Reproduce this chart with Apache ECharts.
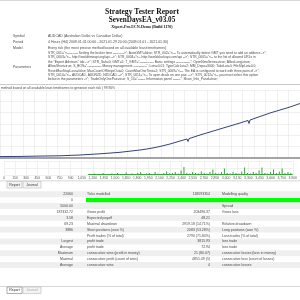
<!DOCTYPE html>
<html>
<head>
<meta charset="utf-8">
<script src="https://cdn.jsdelivr.net/npm/echarts@6/dist/echarts.min.js"></script>
<style>
  html, body { margin: 0; padding: 0; background: #fff; }
  #report { width: 300px; height: 300px; }
</style>
</head>
<body>
<div id="report"></div>
<script>
// balance curve: trade number -> balance
const balanceTrades = [0, 260, 520, 780, 1040, 1300, 1560, 1820, 1950, 2080, 2210, 2340, 2431, 2444, 2457,
  2600, 2730, 2860, 2990, 3120, 3224, 3237, 3250, 3380, 3510, 3640, 3770, 3900];
const balanceValues = [5000, 5500, 6800, 7800, 10600, 14800, 20100, 28200, 33500, 40600, 49400, 60000, 67000, 58200, 68400,
  81200, 91800, 102400, 113000, 123500, 132400, 121800, 134100, 146500, 158800, 169400, 180000, 192300];

// lots pane
const lotTrades = [1144, 1183, 1222, 1261, 1300, 1339, 1378, 1417, 1456, 1495, 1534, 1573, 1612, 1651, 1690, 1729, 1768, 1807,
  1846, 1885, 1924, 1963, 2002, 2041, 2080, 2119, 2158, 2197, 2236, 2275, 2314, 2353, 2392, 2431, 2470, 2509, 2548, 2587,
  2626, 2665, 2704, 2743, 2782, 2821, 2860, 2899, 2938, 2977, 3016, 3055, 3094, 3133, 3172, 3211, 3250, 3289, 3328, 3367,
  3406, 3445, 3484, 3523, 3562, 3601, 3640, 3679, 3718, 3757, 3796, 3835, 3874];
const lotSizes = [0.1, 0.1, 0.15, 0.1, 0.1, 0.2, 0.1, 0.1, 0.15, 0.1, 0.2, 0.1, 0.1, 0.25, 0.1, 0.15, 0.1, 0.2,
  0.3, 0.1, 0.15, 0.2, 0.1, 0.3, 0.15, 0.1, 0.2, 0.35, 0.15, 0.2, 0.3, 0.15, 0.45, 0.8, 0.2, 0.15, 0.3, 0.2,
  0.15, 0.35, 0.2, 0.15, 0.3, 0.55, 0.2, 0.15, 0.3, 0.65, 0.2, 0.15, 0.3, 0.2, 0.15, 0.35, 0.75, 0.2, 0.15, 0.3,
  0.2, 0.45, 0.75, 0.2, 0.15, 0.3, 0.55, 0.2, 0.35, 0.65, 0.2, 0.3, 0.2];
const lotBase = 0.06;

const titleLines = ["Strategy Tester Report", "SevenDaysEA_v03.05", "Xtpert-Pro.ECN-Demo (Build 1170)"];
const infoRows = [
  ["Symbol", "AUDCAD (Australian Dollar vs Canadian Dollar)"],
  ["Period", "4 Hours (H4) 2009.01.01 00:00 - 2021.01.29 20:00 (2009.01.01 - 2021.01.30)"],
  ["Model", "Every tick (the most precise method based on all available least timeframes)"]
];
const paramLines = [
  'STR_001="<---------- Setting the broker time ---------->"; AutoGMT=false; STR_002="<--- To automatically detect GMT you need to add an address ->";',
  'STR_0003="<-- http://worldtimeapi.org/api -->"; STR_0004="<-- http://worldclockapi.com/api -->"; STR_0005="<-- to the list of allowed URLs in',
  'the "Expert Advisors" tab -->"; STR_Sah=0; GMT=2; T_GMT="------------- Basic settings -------------"; OpenNewSeries=true; AllowLong=true;',
  'AllowShort=true; S_BOS="------------- Money management ------------"; Lots=0.01; TypeCalcLot=2; MM_Depo=3000; TakeLot=0; FileSlipLot=0.0;',
  'ResetMaxStopLoss=false; MaxCountOfStepsOut=0; CountMaxOneTime=2; STR_0009="<--- The EA is configured to work with three pairs of ->";',
  'STR_0010="<-- AUDCAD, AUDNZD, NZDCAD -->"; STR_0011="<-- To open deals on one pair, -->"; STR_0012="<-- you must select this option',
  'below in the parameters ->"; TradeOnlyOnePair=true; S_13="------- Information panel -------"; Show_Info_Panel=true;'
];
const graphCaption = "SevenDaysEA_v03.05 AUDCAD,H4 Every tick (the most precise method based on all available least timeframes to generate each tick | 99.90%";
const tableRows = [
  ["22060", "Ticks modelled", "118593354", "Modelling quality"],
  ["0", "", "", ""],
  ["5000.00", "", "", "Spread"],
  ["187332.72", "Gross profit", "203496.37", "Gross loss"],
  ["3.58", "Expected payoff", "48.21", ""],
  ["69.23", "Maximal drawdown", "2919.18 (14.71%)", "Relative drawdown"],
  ["3886", "Short positions (won %)", "2083 (53.28%)", "Long positions (won %)"],
  ["", "Profit trades (% of total)", "2790 (71.80%)", "Loss trades (% of total)"],
  ["Largest", "profit trade", "3815.93", "loss trade"],
  ["Average", "profit trade", "72.94", "loss trade"],
  ["Maximum", "consecutive wins (profit in money)", "21 (80.07)", "consecutive losses (loss in money)"],
  ["Maximal", "consecutive profit (count of wins)", "4851.49 (5)", "consecutive loss (count of losses)"],
  ["Average", "consecutive wins", "4", "consecutive losses"]
];
const tabNames = ["Graph", "Report", "Journal"];

const sans = "Liberation Sans";
const serif = "Liberation Serif";

function txt(x, y, s, extra) {
  return {
    type: "text", x: x, y: y, silent: true, z: 10,
    style: Object.assign({
      text: s, fill: "#4a4a4a", fontSize: 3.5, fontFamily: sans,
      align: "left", verticalAlign: "middle", textAlign: "left", textVerticalAlign: "middle"
    }, extra || {})
  };
}
function box(x, y, w, h, fill, stroke) {
  return { type: "rect", silent: true, z: 1, shape: { x: x, y: y, width: w, height: h },
    style: { fill: fill, stroke: stroke || null, lineWidth: stroke ? 0.6 : 0 } };
}

const graphics = [];

// header
graphics.push(box(0, 0, 300, 1, "#d8d8d8"));
graphics.push(txt(142, 12, titleLines[0], { fontSize: 7.6, fontWeight: "bold", fontFamily: serif, fill: "#111", align: "center", textAlign: "center" }));
graphics.push(txt(142, 20, titleLines[1], { fontSize: 7.2, fontWeight: "bold", fontFamily: serif, fill: "#111", align: "center", textAlign: "center" }));
graphics.push(txt(142, 26.5, titleLines[2], { fontSize: 4, fontWeight: "bold", fontFamily: serif, fill: "#111", align: "center", textAlign: "center" }));
infoRows.forEach((r, i) => {
  graphics.push(txt(13, 36 + i * 6, r[0]));
  graphics.push(txt(48, 36 + i * 6, r[1]));
});
graphics.push(txt(13, 67, "Parameters"));
paramLines.forEach((s, i) => graphics.push(txt(48, 53 + i * 4.4, s, { fontSize: 3.3 })));

// graph caption
graphics.push(box(0, 84, 300, 0.8, "#b8b8b8"));
graphics.push(txt(115, 88, graphCaption, { fontSize: 3.3, align: "right", textAlign: "right" }));

// tabs helper
function tabs(y, active) {
  graphics.push(box(0, y, 300, 0.7, "#c8c8c8"));
  const xs = [[-14, 4], [7, 15], [23, 18]];
  tabNames.forEach((n, i) => {
    const on = i === active;
    graphics.push(box(xs[i][0], y + 1, xs[i][1], 6.5, on ? "#fff" : "#f4f4f4", on ? "#777" : "#bbb"));
    graphics.push(txt(xs[i][0] + xs[i][1] / 2, y + 4.3, n, { align: "center", textAlign: "center", fill: i === 2 && active === 1 ? "#aaa" : "#333" }));
  });
}
tabs(180.5, 0);

// table
tableRows.forEach((r, i) => {
  const y = 191.3 + i * 5.9;
  if (i % 2 === 0) graphics.push(box(0, y, 300, 5.9, "#efefef"));
  const cy = y + 3;
  graphics.push(txt(73, cy, r[0], { align: "right", textAlign: "right" }));
  graphics.push(txt(87, cy, r[1]));
  graphics.push(txt(210, cy, r[2], { align: "right", textAlign: "right" }));
  graphics.push(txt(222, cy, r[3]));
});
graphics.push(box(86, 191.3 + 5.9 + 0.8, 214, 4.3, "#0f0"));

tabs(286, 1);

const chart = echarts.init(document.getElementById("report"), null, { renderer: "canvas" });
chart.setOption({
  animation: false,
  backgroundColor: "#fff",
  grid: [
    { left: 0, right: 0, top: 90, bottom: 142 },
    { left: 0, right: 0, top: 161, bottom: 125 }
  ],
  xAxis: [
    { gridIndex: 0, type: "value", min: 0, max: 3900, interval: 150,
      axisLine: { show: true, onZero: false, lineStyle: { color: "#a4a4a4", width: 2 } },
      axisTick: { show: false }, axisLabel: { show: false },
      splitLine: { show: true, lineStyle: { color: "#e6e6e6", width: 0.6 } } },
    { gridIndex: 1, type: "value", min: 0, max: 3900, interval: 150,
      axisLine: { show: false }, axisTick: { show: false },
      axisLabel: { show: true, fontSize: 3.4, color: "#555", margin: 2, fontFamily: sans },
      splitLine: { show: true, lineStyle: { color: "#e6e6e6", width: 0.6 } } }
  ],
  yAxis: [
    { gridIndex: 0, type: "value", min: 0, max: 240000, interval: 40000,
      axisLine: { show: false }, axisTick: { show: false }, axisLabel: { show: false },
      splitLine: { show: true, lineStyle: { color: "#e6e6e6", width: 0.6 } } },
    { gridIndex: 1, type: "value", min: 0, max: 1.4, interval: 0.7,
      axisLine: { show: false }, axisTick: { show: false }, axisLabel: { show: false },
      splitLine: { show: true, lineStyle: { color: "#e6e6e6", width: 0.6 } } }
  ],
  series: [
    { type: "line", xAxisIndex: 0, yAxisIndex: 0, showSymbol: false, smooth: false,
      lineStyle: { color: "#34427a", width: 1 },
      data: balanceTrades.map((t, i) => [t, balanceValues[i]]) },
    { type: "bar", xAxisIndex: 1, yAxisIndex: 1, barWidth: 1,
      itemStyle: { color: "#3aa53a" },
      data: lotTrades.map((t, i) => [t, lotSizes[i]]),
      markLine: { silent: true, symbol: "none", label: { show: false },
        lineStyle: { color: "#3aa53a", width: 1.2, type: "solid" },
        data: [[{ coord: [lotTrades[0], lotBase] }, { coord: [3900, lotBase] }]] } }
  ],
  graphic: graphics
});
</script>
</body>
</html>
